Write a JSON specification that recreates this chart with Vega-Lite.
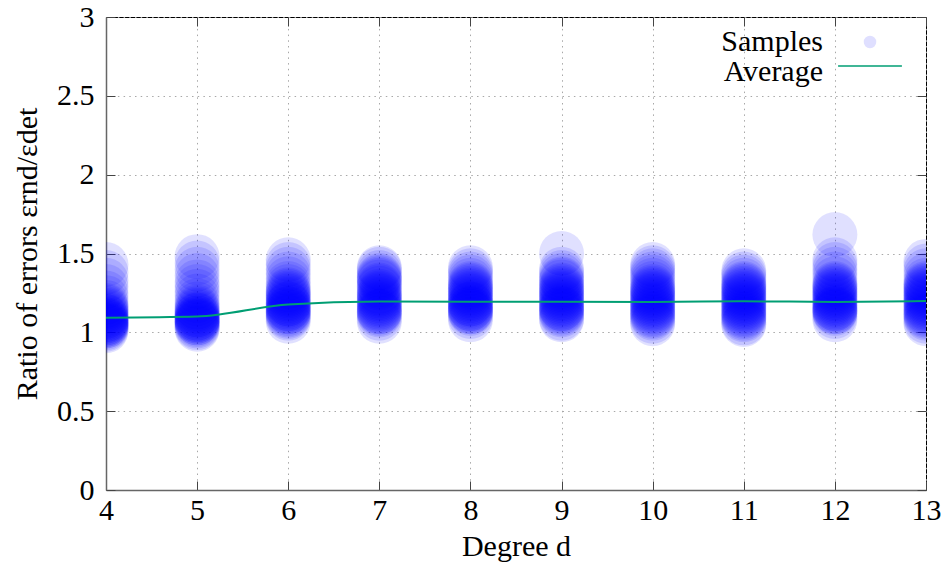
{
  "$schema": "https://vega.github.io/schema/vega-lite/v6.json",
  "width": 820,
  "height": 473,
  "autosize": {"type": "none"},
  "padding": {"left": 106, "top": 17, "right": 18, "bottom": 79},
  "background": "white",
  "config": {
    "view": {"stroke": "#000000", "strokeWidth": 1},
    "font": "Liberation Serif",
    "axis": {
      "domainColor": "#666666", "domainWidth": 1.5,
      "tickColor": "#444444", "tickSize": -9, "tickWidth": 1,
      "gridColor": "#a8a8a8", "gridDash": [1.5, 4.2], "gridWidth": 1
    }
  },
  "datasets": {
    "samples": [
      {"d":4,"r":1.43},{"d":4,"r":1.38},{"d":4,"r":1.33},{"d":4,"r":1.29},{"d":4,"r":1.25},{"d":4,"r":1.22},{"d":4,"r":1.19},{"d":4,"r":1.17},{"d":4,"r":1.16},{"d":4,"r":1.15},{"d":4,"r":1.14},{"d":4,"r":1.13},{"d":4,"r":1.12},{"d":4,"r":1.11},{"d":4,"r":1.10},{"d":4,"r":1.10},{"d":4,"r":1.09},{"d":4,"r":1.08},{"d":4,"r":1.08},{"d":4,"r":1.07},{"d":4,"r":1.07},{"d":4,"r":1.06},{"d":4,"r":1.06},{"d":4,"r":1.05},{"d":4,"r":1.05},{"d":4,"r":1.04},{"d":4,"r":1.04},{"d":4,"r":1.03},{"d":4,"r":1.02},{"d":4,"r":1.01},
      {"d":5,"r":1.48},{"d":5,"r":1.44},{"d":5,"r":1.40},{"d":5,"r":1.36},{"d":5,"r":1.32},{"d":5,"r":1.29},{"d":5,"r":1.26},{"d":5,"r":1.23},{"d":5,"r":1.20},{"d":5,"r":1.18},{"d":5,"r":1.16},{"d":5,"r":1.15},{"d":5,"r":1.14},{"d":5,"r":1.13},{"d":5,"r":1.12},{"d":5,"r":1.11},{"d":5,"r":1.11},{"d":5,"r":1.10},{"d":5,"r":1.09},{"d":5,"r":1.09},{"d":5,"r":1.08},{"d":5,"r":1.08},{"d":5,"r":1.07},{"d":5,"r":1.07},{"d":5,"r":1.06},{"d":5,"r":1.06},{"d":5,"r":1.05},{"d":5,"r":1.04},{"d":5,"r":1.03},{"d":5,"r":1.02},
      {"d":6,"r":1.46},{"d":6,"r":1.43},{"d":6,"r":1.40},{"d":6,"r":1.37},{"d":6,"r":1.34},{"d":6,"r":1.31},{"d":6,"r":1.29},{"d":6,"r":1.27},{"d":6,"r":1.26},{"d":6,"r":1.25},{"d":6,"r":1.24},{"d":6,"r":1.23},{"d":6,"r":1.22},{"d":6,"r":1.21},{"d":6,"r":1.20},{"d":6,"r":1.19},{"d":6,"r":1.18},{"d":6,"r":1.18},{"d":6,"r":1.17},{"d":6,"r":1.16},{"d":6,"r":1.15},{"d":6,"r":1.15},{"d":6,"r":1.14},{"d":6,"r":1.13},{"d":6,"r":1.13},{"d":6,"r":1.12},{"d":6,"r":1.11},{"d":6,"r":1.10},{"d":6,"r":1.09},{"d":6,"r":1.07},
      {"d":7,"r":1.41},{"d":7,"r":1.40},{"d":7,"r":1.38},{"d":7,"r":1.36},{"d":7,"r":1.35},{"d":7,"r":1.34},{"d":7,"r":1.33},{"d":7,"r":1.32},{"d":7,"r":1.30},{"d":7,"r":1.29},{"d":7,"r":1.28},{"d":7,"r":1.26},{"d":7,"r":1.25},{"d":7,"r":1.24},{"d":7,"r":1.23},{"d":7,"r":1.22},{"d":7,"r":1.21},{"d":7,"r":1.20},{"d":7,"r":1.19},{"d":7,"r":1.18},{"d":7,"r":1.17},{"d":7,"r":1.16},{"d":7,"r":1.15},{"d":7,"r":1.14},{"d":7,"r":1.13},{"d":7,"r":1.13},{"d":7,"r":1.12},{"d":7,"r":1.11},{"d":7,"r":1.09},{"d":7,"r":1.07},
      {"d":8,"r":1.41},{"d":8,"r":1.39},{"d":8,"r":1.37},{"d":8,"r":1.35},{"d":8,"r":1.33},{"d":8,"r":1.31},{"d":8,"r":1.30},{"d":8,"r":1.29},{"d":8,"r":1.28},{"d":8,"r":1.27},{"d":8,"r":1.26},{"d":8,"r":1.25},{"d":8,"r":1.24},{"d":8,"r":1.23},{"d":8,"r":1.22},{"d":8,"r":1.21},{"d":8,"r":1.20},{"d":8,"r":1.19},{"d":8,"r":1.18},{"d":8,"r":1.18},{"d":8,"r":1.17},{"d":8,"r":1.16},{"d":8,"r":1.15},{"d":8,"r":1.15},{"d":8,"r":1.14},{"d":8,"r":1.13},{"d":8,"r":1.13},{"d":8,"r":1.12},{"d":8,"r":1.10},{"d":8,"r":1.08},
      {"d":9,"r":1.50},{"d":9,"r":1.40},{"d":9,"r":1.38},{"d":9,"r":1.36},{"d":9,"r":1.34},{"d":9,"r":1.33},{"d":9,"r":1.32},{"d":9,"r":1.30},{"d":9,"r":1.29},{"d":9,"r":1.28},{"d":9,"r":1.27},{"d":9,"r":1.26},{"d":9,"r":1.25},{"d":9,"r":1.24},{"d":9,"r":1.23},{"d":9,"r":1.22},{"d":9,"r":1.21},{"d":9,"r":1.20},{"d":9,"r":1.19},{"d":9,"r":1.18},{"d":9,"r":1.17},{"d":9,"r":1.16},{"d":9,"r":1.15},{"d":9,"r":1.15},{"d":9,"r":1.14},{"d":9,"r":1.13},{"d":9,"r":1.12},{"d":9,"r":1.11},{"d":9,"r":1.09},{"d":9,"r":1.08},
      {"d":10,"r":1.43},{"d":10,"r":1.41},{"d":10,"r":1.39},{"d":10,"r":1.37},{"d":10,"r":1.35},{"d":10,"r":1.33},{"d":10,"r":1.31},{"d":10,"r":1.29},{"d":10,"r":1.28},{"d":10,"r":1.27},{"d":10,"r":1.26},{"d":10,"r":1.25},{"d":10,"r":1.24},{"d":10,"r":1.23},{"d":10,"r":1.22},{"d":10,"r":1.21},{"d":10,"r":1.20},{"d":10,"r":1.19},{"d":10,"r":1.18},{"d":10,"r":1.17},{"d":10,"r":1.16},{"d":10,"r":1.15},{"d":10,"r":1.14},{"d":10,"r":1.13},{"d":10,"r":1.12},{"d":10,"r":1.11},{"d":10,"r":1.10},{"d":10,"r":1.09},{"d":10,"r":1.07},{"d":10,"r":1.055},
      {"d":11,"r":1.39},{"d":11,"r":1.37},{"d":11,"r":1.35},{"d":11,"r":1.33},{"d":11,"r":1.31},{"d":11,"r":1.30},{"d":11,"r":1.29},{"d":11,"r":1.28},{"d":11,"r":1.27},{"d":11,"r":1.26},{"d":11,"r":1.25},{"d":11,"r":1.24},{"d":11,"r":1.23},{"d":11,"r":1.22},{"d":11,"r":1.21},{"d":11,"r":1.20},{"d":11,"r":1.19},{"d":11,"r":1.18},{"d":11,"r":1.17},{"d":11,"r":1.16},{"d":11,"r":1.15},{"d":11,"r":1.14},{"d":11,"r":1.13},{"d":11,"r":1.12},{"d":11,"r":1.11},{"d":11,"r":1.10},{"d":11,"r":1.09},{"d":11,"r":1.08},{"d":11,"r":1.06},{"d":11,"r":1.05},
      {"d":12,"r":1.62},{"d":12,"r":1.46},{"d":12,"r":1.43},{"d":12,"r":1.40},{"d":12,"r":1.37},{"d":12,"r":1.34},{"d":12,"r":1.31},{"d":12,"r":1.30},{"d":12,"r":1.29},{"d":12,"r":1.28},{"d":12,"r":1.27},{"d":12,"r":1.26},{"d":12,"r":1.25},{"d":12,"r":1.24},{"d":12,"r":1.23},{"d":12,"r":1.22},{"d":12,"r":1.21},{"d":12,"r":1.20},{"d":12,"r":1.19},{"d":12,"r":1.18},{"d":12,"r":1.17},{"d":12,"r":1.16},{"d":12,"r":1.15},{"d":12,"r":1.15},{"d":12,"r":1.14},{"d":12,"r":1.13},{"d":12,"r":1.13},{"d":12,"r":1.12},{"d":12,"r":1.10},{"d":12,"r":1.08},
      {"d":13,"r":1.45},{"d":13,"r":1.42},{"d":13,"r":1.39},{"d":13,"r":1.36},{"d":13,"r":1.33},{"d":13,"r":1.31},{"d":13,"r":1.30},{"d":13,"r":1.29},{"d":13,"r":1.28},{"d":13,"r":1.27},{"d":13,"r":1.26},{"d":13,"r":1.25},{"d":13,"r":1.24},{"d":13,"r":1.23},{"d":13,"r":1.22},{"d":13,"r":1.21},{"d":13,"r":1.20},{"d":13,"r":1.19},{"d":13,"r":1.18},{"d":13,"r":1.17},{"d":13,"r":1.16},{"d":13,"r":1.15},{"d":13,"r":1.14},{"d":13,"r":1.13},{"d":13,"r":1.12},{"d":13,"r":1.11},{"d":13,"r":1.10},{"d":13,"r":1.09},{"d":13,"r":1.07},{"d":13,"r":1.055}
    ],
    "avg": [
      {"d":4,"r":1.093},{"d":5,"r":1.10},{"d":6,"r":1.177},{"d":7,"r":1.196},{"d":8,"r":1.194},{"d":9,"r":1.194},{"d":10,"r":1.193},{"d":11,"r":1.197},{"d":12,"r":1.193},{"d":13,"r":1.198}
    ]
  },
  "layer": [
    {
      "data": {"name": "samples"},
      "mark": {"type": "point", "filled": true, "clip": true, "size": 2025},
      "encoding": {
        "x": {"field": "d", "type": "quantitative", "scale": {"domain": [4, 13], "nice": false, "zero": false},
              "axis": {"orient": "bottom", "title": "Degree d", "values": [4,5,6,7,8,9,10,11,12,13], "labelPadding": 14, "titlePadding": 6, "grid": true, "labelFlush": false,
                       "labelFont": "Liberation Serif", "labelFontSize": 30, "labelColor": "#000000", "titleFont": "Liberation Serif", "titleFontSize": 30, "titleFontWeight": "normal", "titleColor": "#000000"}},
        "y": {"field": "r", "type": "quantitative", "scale": {"domain": [0, 3], "nice": false},
              "axis": {"orient": "left", "title": "Ratio of errors εrnd/εdet", "values": [0,0.5,1,1.5,2,2.5,3], "format": ".1~f", "labelPadding": 21, "titlePadding": 14, "grid": true, "labelFlush": false,
                       "labelFont": "Liberation Serif", "labelFontSize": 30, "labelColor": "#000000", "titleFont": "Liberation Serif", "titleFontSize": 30, "titleFontWeight": "normal", "titleColor": "#000000"}},
        "color": {"datum": "Samples", "type": "nominal", "scale": {"domain": ["Samples", "Average"], "range": ["#0000ff", "#009e73"]},
                  "legend": {"title": null, "orient": "none", "legendX": 749, "legendY": 10, "labelAlign": "right", "labelOffset": -62, "rowPadding": 0, "symbolSize": 121, "padding": 0,
                             "labelFont": "Liberation Serif", "labelFontSize": 30, "labelColor": "#000000",
                             "encode": {"symbols": {"update": {"stroke": {"scale": "color", "field": "value"}, "strokeWidth": {"value": 2}}},
                                        "labels": {"update": {"dy": {"signal": "(datum.value === 'Average' || datum.label === 'Average') ? -6 : 0"}}}}}},
        "opacity": {"datum": "Samples", "type": "nominal", "scale": {"domain": ["Samples", "Average"], "range": [0.12, 1]}},
        "shape": {"datum": "Samples", "type": "nominal", "scale": {"domain": ["Samples", "Average"], "range": ["circle", "M-5.8,-1.1L5.8,-1.1"]}}
      }
    },
    {
      "data": {"name": "avg"},
      "mark": {"type": "line", "interpolate": "monotone", "strokeWidth": 2},
      "encoding": {
        "x": {"field": "d", "type": "quantitative", "axis": {"orient": "top", "labels": false, "title": null, "grid": false, "domain": false, "values": [4,5,6,7,8,9,10,11,12,13], "tickSize": -9, "tickColor": "#444444"}},
        "y": {"field": "r", "type": "quantitative", "axis": {"orient": "right", "labels": false, "title": null, "grid": false, "domain": false, "values": [0,0.5,1,1.5,2,2.5,3], "tickSize": -9, "tickColor": "#444444"}},
        "color": {"datum": "Average", "type": "nominal"},
        "opacity": {"datum": "Average", "type": "nominal"}
      }
    }
  ],
  "resolve": {"axis": {"x": "independent", "y": "independent"}}
}
